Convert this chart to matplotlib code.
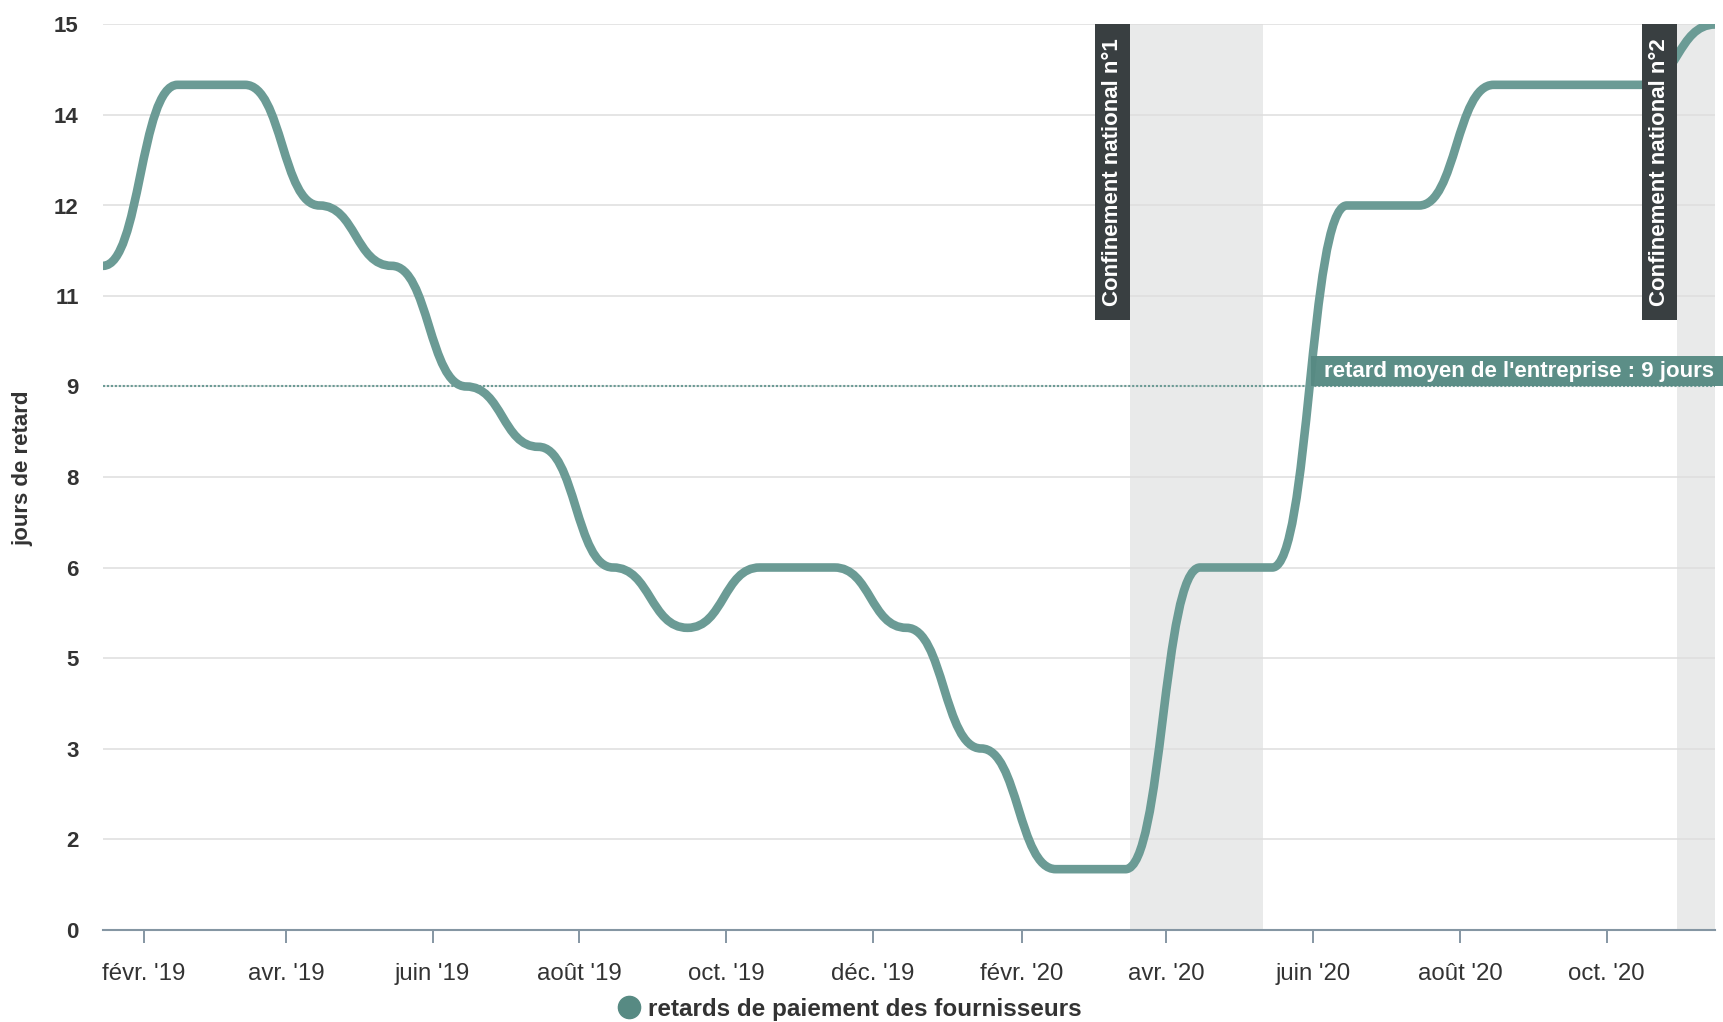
import numpy as np
import pandas as pd
import matplotlib
matplotlib.use("Agg")
import matplotlib.pyplot as plt
import matplotlib.dates as mdates
from matplotlib.path import Path
from matplotlib.patches import PathPatch, Rectangle
from matplotlib.lines import Line2D
from matplotlib import transforms as mtransforms
from matplotlib.ticker import FixedLocator, FuncFormatter

# monthly values, plotted mid-month
months = pd.date_range("2019-01-01", "2020-11-01", freq="MS") + pd.Timedelta(days=14)
delays = [11, 14, 14, 12, 11, 9, 8, 6, 5, 6, 6, 5,
          3, 1, 1, 6, 6, 12, 12, 14, 14, 14, 15]
average_delay = 9

lockdown_starts = ["2020-03-17", "2020-10-30"]
lockdown_ends = ["2020-05-11", "2020-12-15"]
lockdown_labels = ["Confinement national n°1", "Confinement national n°2"]

y_ticks = [0, 1.5, 3, 4.5, 6, 7.5, 9, 10.5, 12, 13.5, 15]
month_abbr = {1: "janv.", 2: "févr.", 3: "mars", 4: "avr.", 5: "mai", 6: "juin",
              7: "juil.", 8: "août", 9: "sept.", 10: "oct.", 11: "nov.", 12: "déc."}

LINE_COLOR = "#6b9b95"
SERIES_COLOR = "#578a83"
BAND_COLOR = "#e9eaea"
DARK_BOX = "#393f41"
TEXT_COLOR = "#333333"
AXIS_COLOR = "#8596a3"

plt.rcParams["font.family"] = ["Liberation Sans", "DejaVu Sans"]


def bump_path(xs, ys):
    """Cubic segments with flat tangents at every point (bump-x curve)."""
    verts = [(xs[0], ys[0])]
    codes = [Path.MOVETO]
    for i in range(1, len(xs)):
        xm = (xs[i - 1] + xs[i]) / 2
        verts += [(xm, ys[i - 1]), (xm, ys[i]), (xs[i], ys[i])]
        codes += [Path.CURVE4] * 3
    return Path(verts, codes)


fig = plt.figure(figsize=(17.23, 10.22), dpi=100)
fig.patch.set_facecolor("white")
W, H = 1723, 1022
ax = fig.add_axes([103 / W, 1 - 929.5 / H, (1715 - 103) / W, (929.5 - 24.5) / H])

x_num = mdates.date2num(months.to_pydatetime())
ax.set_xlim(x_num[0], x_num[-1])
ax.set_ylim(0, 15)

# lockdown periods
for start, end in zip(lockdown_starts, lockdown_ends):
    ax.axvspan(mdates.datestr2num(start), mdates.datestr2num(end),
               color=BAND_COLOR, lw=0, zorder=0.2)

# grid
ax.yaxis.set_major_locator(FixedLocator(y_ticks))
ax.yaxis.set_major_formatter(FuncFormatter(lambda v, pos: str(int(np.floor(v + 0.5)))))
ax.grid(axis="y", color="#dedede", lw=1.1)
ax.set_axisbelow(True)
for gl in ax.get_ygridlines():
    gl.set_zorder(0.5)

# series
curve = PathPatch(bump_path(list(x_num), delays), fill=False, edgecolor=LINE_COLOR,
                  lw=6.2, capstyle="round", joinstyle="round", zorder=3)
ax.add_patch(curve)

# average line
ax.axhline(average_delay, color=LINE_COLOR, lw=1.5, ls=(0, (1, 0.9)), zorder=2.5)

# axes styling
for side in ["top", "right", "left"]:
    ax.spines[side].set_visible(False)
ax.spines["bottom"].set_color(AXIS_COLOR)
ax.spines["bottom"].set_linewidth(1.5)
ax.spines["bottom"].set_zorder(2.6)

ax.xaxis.set_major_locator(mdates.MonthLocator(bymonth=(2, 4, 6, 8, 10, 12)))
ax.xaxis.set_major_formatter(FuncFormatter(
    lambda v, pos: f"{month_abbr[mdates.num2date(v).month]} '{mdates.num2date(v):%y}"))
ax.tick_params(axis="x", length=9, width=1.4, color=AXIS_COLOR, pad=15,
               labelsize=17.3, labelcolor=TEXT_COLOR)
ax.tick_params(axis="y", length=0, pad=17.5, labelsize=16, labelcolor=TEXT_COLOR)
for lab in ax.get_yticklabels():
    lab.set_fontweight("bold")

ax.set_ylabel("jours de retard", fontsize=16, fontweight="bold", color=TEXT_COLOR)
ax.yaxis.set_label_coords(-0.0435, 0.51)

renderer = fig.canvas.get_renderer()
px = 72 / fig.dpi

# lockdown labels: dark box hanging from the top, left of each band
for start, label in zip(lockdown_starts, lockdown_labels):
    xs = mdates.datestr2num(start)
    txt = ax.annotate(label, xy=(xs, 15), xytext=(-17.5 * px, -14 * px),
                      textcoords="offset points", rotation=90, ha="center", va="top",
                      fontsize=16, fontweight="bold", color="white", zorder=6,
                      annotation_clip=False)
    x0, top = ax.transData.transform((xs, 15))
    bb = txt.get_window_extent(renderer)
    bottom = bb.y0 - 14
    ax.add_patch(Rectangle((x0 - 35, bottom), 35, top - bottom,
                           transform=mtransforms.IdentityTransform(),
                           facecolor=DARK_BOX, edgecolor="none", zorder=5, clip_on=False))

# average label above the dotted line
avg_trans = mtransforms.blended_transform_factory(ax.transAxes, ax.transData)
avg_txt = ax.annotate(f"retard moyen de l'entreprise : {average_delay} jours",
                      xy=(1, average_delay), xycoords=avg_trans,
                      xytext=(-1 * px, 15 * px), textcoords="offset points",
                      ha="right", va="center", fontsize=16, fontweight="bold",
                      color="white", zorder=6, annotation_clip=False)
_, y_line = ax.transData.transform((x_num[0], average_delay))
bb = avg_txt.get_window_extent(renderer)
ax.add_patch(Rectangle((bb.x0 - 13, y_line), W - (bb.x0 - 13), 30,
                       transform=mtransforms.IdentityTransform(),
                       facecolor=SERIES_COLOR, edgecolor="none", alpha=0.97,
                       zorder=5, clip_on=False))

# legend
handle = Line2D([], [], marker="o", ls="none", color=SERIES_COLOR, markersize=16)
fig.legend(handles=[handle], labels=["retards de paiement des fournisseurs"],
           loc="center", bbox_to_anchor=(0.493, 1 - 1009 / H), frameon=False,
           prop=dict(weight="bold", size=17.5), labelcolor=TEXT_COLOR,
           handletextpad=0.3, handlelength=1.0, borderpad=0)

fig.savefig("out.png", dpi=100)
